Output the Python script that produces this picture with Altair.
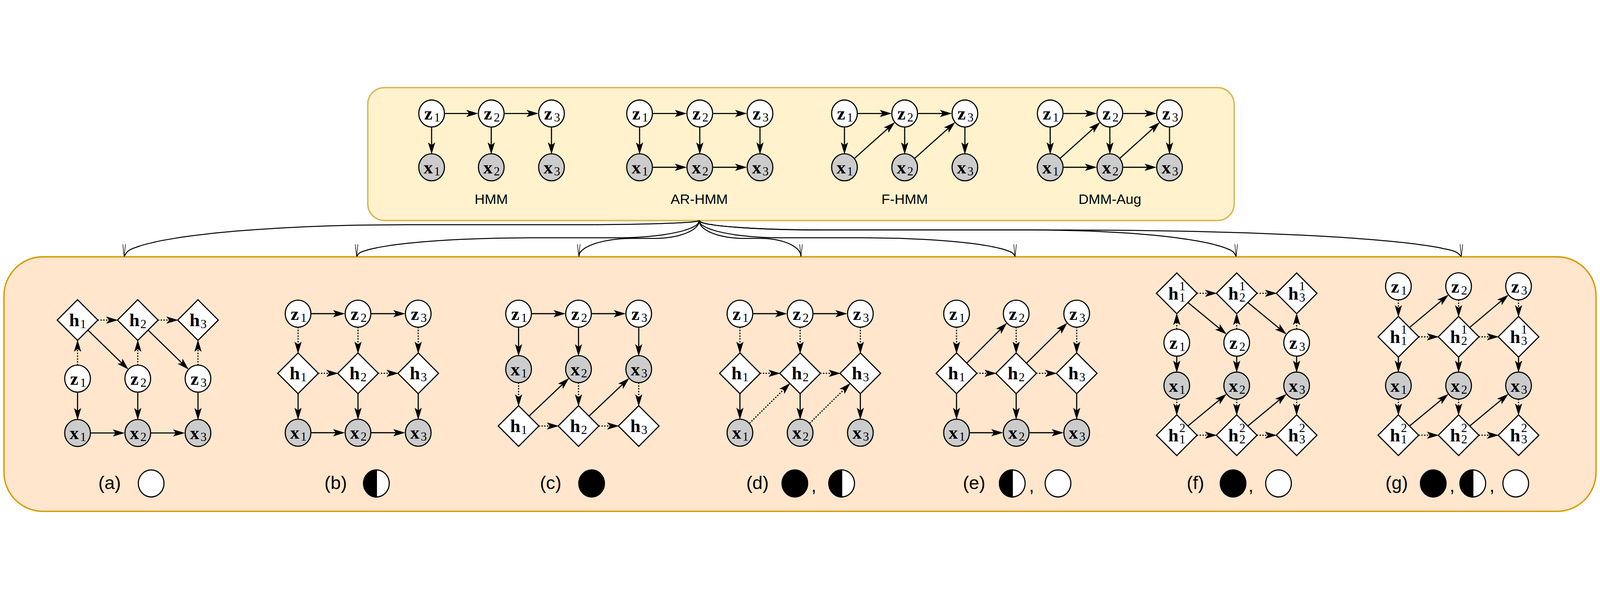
import math
import altair as alt
import pandas as pd

# ---- layout data (screen pixels of the 5733x1536 page) ----
top_box = [1316, 4424, 6, 483]
bottom_box = [11, 5722, 613, 1526]

# panel -> column x positions, rows (name -> y, kind), edges ("a>b" solid, "a~b" dotted)
panels = {
    "HMM": dict(cols=[1545, 1759, 1975], rows={"z": (99, "o"), "x": (292, "g")},
                edges=["z1>z2", "z2>z3", "z1>x1", "z2>x2", "z3>x3"]),
    "AR": dict(cols=[2291, 2507, 2723], rows={"z": (99, "o"), "x": (292, "g")},
               edges=["z1>z2", "z2>z3", "z1>x1", "z2>x2", "z3>x3", "x1>x2", "x2>x3"]),
    "F": dict(cols=[3026, 3242, 3458], rows={"z": (99, "o"), "x": (292, "g")},
              edges=["z1>z2", "z2>z3", "z1>x1", "z2>x2", "z3>x3", "x1>z2", "x2>z3"]),
    "DMM": dict(cols=[3764, 3978, 4192], rows={"z": (99, "o"), "x": (292, "g")},
                edges=["z1>z2", "z2>z3", "z1>x1", "z2>x2", "z3>x3", "x1>x2", "x2>x3", "x1>z2", "x2>z3"]),
    "a": dict(cols=[275, 491, 707], rows={"h": (840, "d"), "z": (1050, "o"), "x": (1245, "g")},
              edges=["h1~h2", "h2~h3", "z1~h1", "z2~h2", "z3~h3", "h1>z2", "h2>z3",
                     "z1>x1", "z2>x2", "z3>x3", "x1>x2", "x2>x3"]),
    "b": dict(cols=[1066, 1281, 1497], rows={"z": (817, "o"), "h": (1031, "d"), "x": (1244, "g")},
              edges=["z1>z2", "z2>z3", "z1~h1", "z2~h2", "z3~h3", "h1~h2", "h2~h3",
                     "h1>x1", "h2>x2", "h3>x3", "x1>x2", "x2>x3"]),
    "c": dict(cols=[1857, 2072, 2288], rows={"z": (817, "o"), "x": (1016, "g"), "h": (1220, "d")},
              edges=["z1>z2", "z2>z3", "z1>x1", "z2>x2", "z3>x3", "x1~h1", "x2~h2", "x3~h3",
                     "h1>x2", "h2>x3", "h1~h2", "h2~h3"]),
    "d": dict(cols=[2651, 2867, 3083], rows={"z": (817, "o"), "h": (1031, "d"), "x": (1244, "g")},
              edges=["z1>z2", "z2>z3", "z1~h1", "z2~h2", "z3~h3", "h1~h2", "h2~h3",
                     "h1>x1", "h2>x2", "h3>x3", "x1~h2", "x2~h3"]),
    "e": dict(cols=[3428, 3642, 3859], rows={"z": (817, "o"), "h": (1031, "d"), "x": (1244, "g")},
              edges=["z1~h1", "z2~h2", "z3~h3", "h1>z2", "h2>z3", "h1~h2", "h2~h3",
                     "h1>x1", "h2>x2", "h3>x3", "x1>x2", "x2>x3"]),
    "f": dict(cols=[4218, 4433, 4648],
              rows={"hA": (744, "d"), "z": (921, "o"), "x": (1075, "g"), "hB": (1253, "d")},
              edges=["hA1~hA2", "hA2~hA3", "z1~hA1", "z2~hA2", "z3~hA3", "hA1>z2", "hA2>z3",
                     "z1>x1", "z2>x2", "z3>x3", "x1~hB1", "x2~hB2", "x3~hB3",
                     "hB1>x2", "hB2>x3", "hB1~hB2", "hB2~hB3"]),
    "g": dict(cols=[5013, 5229, 5444],
              rows={"z": (719, "o"), "hA": (900, "d"), "x": (1075, "g"), "hB": (1253, "d")},
              edges=["z1~hA1", "z2~hA2", "z3~hA3", "hA1>z2", "hA2>z3", "hA1~hA2", "hA2~hA3",
                     "hA1>x1", "hA2>x2", "hA3>x3", "x1~hB1", "x2~hB2", "x3~hB3",
                     "hB1>x2", "hB2>x3", "hB1~hB2", "hB2~hB3"]),
}

model_names = ["HMM", "AR-HMM", "F-HMM", "DMM-Aug"]
model_name_x = [1759, 2505, 3242, 3978]
model_name_y = 408

# fan-out curves: target x, horizontal level, x where the level ends, width of the bend at the source
curve_src = (2505, 483)
curve_tx = [442, 1276, 2073, 2870, 3638, 4431, 5239]
curve_level = [498, 545, 547, 547, 545, 517, 517]
curve_xe = [1450, 1900, 2267, 2724, 3090, 3700, 3840]
curve_bend = [450, 300, 160, 160, 300, 450, 450]
curve_ty = 612

# captions: label, label x, then legend items (kind, x)
caption_y = 1426
captions = [
    ("(a)", 390, [("white", 539)]),
    ("(b)", 1201, [("half", 1347)]),
    ("(c)", 1972, [("black", 2119)]),
    ("(d)", 2714, [("black", 2848), (",", 2916), ("half", 3016)]),
    ("(e)", 3491, [("half", 3628), (",", 3697), ("white", 3792)]),
    ("(f)", 4285, [("black", 4420), (",", 4484), ("white", 4583)]),
    ("(g)", 5007, [("black", 5138), (",", 5206), ("half", 5280), (",", 5349), ("white", 5434)]),
]

ELLIPSE = "M -0.95 0 A 0.95 1 0 1 0 0.95 0 A 0.95 1 0 1 0 -0.95 0 Z"
LEFT_HALF = "M 0 -1 A 0.95 1 0 0 0 0 1 Z"
DIAMOND = "M 0 -1 L 1 0 L 0 1 L -1 0 Z"
ARROW = "M 0 -1 L 0.6 1 L 0 0.55 L -0.6 1 Z"
OPEN_V = "M -0.22 -1 L 0 1 L 0.22 -1"

# ---- build tables ----
nodes, solid, dotted, heads, letters, subs, sups = [], [], [], [], [], [], []
for pname, p in panels.items():
    pos = {}
    for rname, (ry, kind) in p["rows"].items():
        for i, cx in enumerate(p["cols"], start=1):
            key = f"{rname}{i}"
            pos[key] = (cx, ry, kind)
            nodes.append(dict(x=cx, y=ry, kind=kind))
            letters.append(dict(x=cx - 12, y=ry + 2, t=rname[0]))
            subs.append(dict(x=cx + 20, y=ry + 16, t=str(i)))
            if rname in ("hA", "hB"):
                sups.append(dict(x=cx + 20, y=ry - 24, t="1" if rname == "hA" else "2"))
    for e in p["edges"]:
        dot = "~" in e
        a, b = e.split("~" if dot else ">")
        x0, y0, k0 = pos[a]
        x1, y1, k1 = pos[b]
        dx, dy = x1 - x0, y1 - y0
        L = math.hypot(dx, dy)
        ux, uy = dx / L, dy / L

        def off(k):
            return 72 / (abs(ux) + abs(uy)) if k == "d" else 48

        sx, sy = x0 + ux * off(k0), y0 + uy * off(k0)
        tx, ty = x1 - ux * off(k1), y1 - uy * off(k1)
        (dotted if dot else solid).append(dict(x=sx, y=sy, x2=tx - ux * 20, y2=ty - uy * 20))
        ang = math.degrees(math.atan2(ux, -uy)) % 360
        heads.append(dict(x=tx - ux * 20, y=ty - uy * 20, angle=ang))

# each connector: quarter bend away from the source, a level run, a quarter bend down to the target
curve_pts, vheads = [], []
steps = [k / 10 * math.pi / 2 for k in range(11)]
for j, (tx, lv, xe, bw) in enumerate(zip(curve_tx, curve_level, curve_xe, curve_bend)):
    sx, sy = curve_src
    sgn = 1 if tx > sx else -1
    bw = min(bw, abs(xe - sx))
    pts = [(sx + sgn * bw * (1 - math.cos(t)), sy + (lv - sy) * math.sin(t)) for t in steps]
    pts += [(xe + (tx - xe) * math.sin(t), lv + (curve_ty - lv) * (1 - math.cos(t))) for t in steps]
    for k, (px, py) in enumerate(pts):
        curve_pts.append(dict(id=j, o=k, x=px, y=py))
    vheads.append(dict(x=tx, y=curve_ty - 22))

cap_text, leg = [], []
for lab, lx, items in captions:
    cap_text.append(dict(x=lx, y=caption_y, t=lab))
    for kind, ix in items:
        if kind == ",":
            cap_text.append(dict(x=ix, y=caption_y + 10, t=","))
        else:
            leg.append(dict(x=ix, y=caption_y, kind=kind))

X = alt.X("x:Q", scale=alt.Scale(domain=[8, 5725], nice=False, zero=False), axis=None)
Y = alt.Y("y:Q", scale=alt.Scale(domain=[8, 1528], nice=False, zero=False, reverse=True), axis=None)

boxes = pd.DataFrame([
    dict(x=top_box[0], x2=top_box[1], y=top_box[2], y2=top_box[3], fill="#fff2cc", stroke="#d6b656", r=60),
    dict(x=bottom_box[0], x2=bottom_box[1], y=bottom_box[2], y2=bottom_box[3], fill="#ffe6cc", stroke="#d79b00", r=140),
])
layers = []
for _, b in boxes.iterrows():
    layers.append(alt.Chart(pd.DataFrame([b])).mark_rect(
        fill=b["fill"], stroke=b["stroke"], strokeWidth=5, cornerRadius=int(b["r"])
    ).encode(x=X, x2="x2:Q", y=Y, y2="y2:Q"))

layers.append(alt.Chart(pd.DataFrame(curve_pts)).mark_line(
    color="black", strokeWidth=3.5, interpolate="monotone").encode(
    x=X, y=Y, detail="id:N", order="o:Q"))
layers.append(alt.Chart(pd.DataFrame(vheads)).mark_point(
    shape=OPEN_V, size=1900, filled=False, color="black", strokeWidth=2, opacity=1).encode(x=X, y=Y))

layers.append(alt.Chart(pd.DataFrame(solid)).mark_rule(color="black", strokeWidth=4).encode(
    x=X, y=Y, x2="x2:Q", y2="y2:Q"))
layers.append(alt.Chart(pd.DataFrame(dotted)).mark_rule(color="black", strokeWidth=4, strokeDash=[5, 5]).encode(
    x=X, y=Y, x2="x2:Q", y2="y2:Q"))
layers.append(alt.Chart(pd.DataFrame(heads)).mark_point(
    shape=ARROW, size=1850, filled=True, color="black", opacity=1).encode(
    x=X, y=Y, angle=alt.Angle("angle:Q", scale=None)))

ndf = pd.DataFrame(nodes)
for kind, shape, size, fill in [("o", ELLIPSE, 9409, "white"), ("g", ELLIPSE, 9409, "#cccccc"),
                                ("d", DIAMOND, 21316, "white")]:
    layers.append(alt.Chart(ndf[ndf.kind == kind]).mark_point(
        shape=shape, size=size, filled=True, fill=fill, stroke="black", strokeWidth=4, opacity=1
    ).encode(x=X, y=Y))

layers.append(alt.Chart(pd.DataFrame(letters)).mark_text(
    font="Liberation Serif", fontWeight="bold", fontSize=66, baseline="middle", align="center", color="black"
).encode(x=X, y=Y, text="t:N"))
layers.append(alt.Chart(pd.DataFrame(subs)).mark_text(
    font="Liberation Serif", fontSize=44, baseline="middle", align="center", color="black"
).encode(x=X, y=Y, text="t:N"))
layers.append(alt.Chart(pd.DataFrame(sups)).mark_text(
    font="Liberation Serif", fontSize=44, baseline="middle", align="center", color="black"
).encode(x=X, y=Y, text="t:N"))

layers.append(alt.Chart(pd.DataFrame(dict(x=model_name_x, y=[model_name_y] * 4, t=model_names))).mark_text(
    font="Liberation Sans", fontSize=50, baseline="middle", align="center", color="black"
).encode(x=X, y=Y, text="t:N"))

ldf = pd.DataFrame(leg)
layers.append(alt.Chart(ldf[ldf.kind != "black"]).mark_point(
    shape=ELLIPSE, size=9409, filled=True, fill="white", stroke="black", strokeWidth=4, opacity=1
).encode(x=X, y=Y))
layers.append(alt.Chart(ldf[ldf.kind == "black"]).mark_point(
    shape=ELLIPSE, size=9409, filled=True, fill="black", stroke="black", strokeWidth=4, opacity=1
).encode(x=X, y=Y))
layers.append(alt.Chart(ldf[ldf.kind == "half"]).mark_point(
    shape=LEFT_HALF, size=9409, filled=True, fill="black", stroke="black", strokeWidth=4, opacity=1
).encode(x=X, y=Y))
layers.append(alt.Chart(pd.DataFrame(cap_text)).mark_text(
    font="Liberation Sans", fontSize=66, baseline="middle", align="center", color="black"
).encode(x=X, y=Y, text="t:N"))

chart = alt.layer(*layers).properties(
    width=5717, height=1520, padding=0, autosize="none"
).configure_view(stroke=None)

chart.save("out.html", embed_options={"renderer": "svg", "actions": False})
